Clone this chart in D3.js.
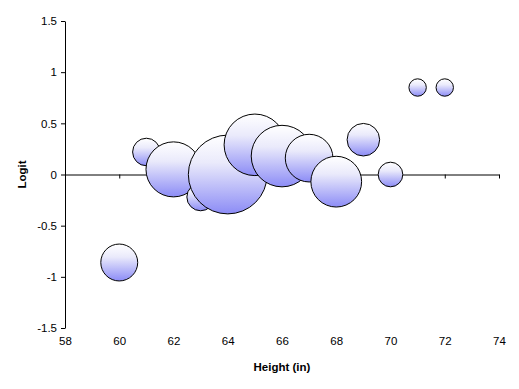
<!DOCTYPE html>
<html lang="en">
  <head>
    <meta charset="utf-8" />
    <title>Logit vs Height</title>
    <style>
      body {
        margin: 0;
        background: #fff;
        font-family: 'Liberation Sans', Arial, sans-serif;
      }
      svg {
        display: block;
      }
    </style>
  </head>
  <body>
    <div class="container"></div>
    <script src="https://cdn.jsdelivr.net/npm/d3@7"></script>
    <script>
      // Data
      const heights = [60, 61, 62, 63, 64, 65, 66, 67, 68, 69, 70, 71, 72];
      const logits = [-0.86, 0.22, 0.05, -0.22, 0.0, 0.29, 0.18, 0.16, -0.07, 0.34, 0.0, 0.85, 0.85];
      const counts = [9, 5, 20, 5, 41, 25, 25, 15, 17, 7, 4, 2, 2];
      const xTicks = [58, 60, 62, 64, 66, 68, 70, 72, 74];
      const yTicks = [-1.5, -1, -0.5, 0, 0.5, 1, 1.5];

      const width = 519;
      const height = 389;

      const svg = d3
        .select('div.container')
        .append('svg')
        .attr('width', width)
        .attr('height', height);

      const x = d3.scaleLinear().domain([58, 74]).range([65, 499]);
      const y = d3.scaleLinear().domain([-1.5, 1.5]).range([328, 21]);
      const r = d3.scaleSqrt().domain([0, 41]).range([0, 39.4]);
      const fmt = (d) => String(d);

      // bubble gradient
      const grad = svg
        .append('defs')
        .append('linearGradient')
        .attr('id', 'bub')
        .attr('x1', 0)
        .attr('y1', 0)
        .attr('x2', 0)
        .attr('y2', 1);
      grad.append('stop').attr('offset', 0).attr('stop-color', '#ffffff');
      grad.append('stop').attr('offset', 0.35).attr('stop-color', '#eaeafb');
      grad.append('stop').attr('offset', 1).attr('stop-color', '#8c8cf6');

      // y axis
      svg
        .append('g')
        .attr('transform', `translate(${x(58)},0)`)
        .call(
          d3.axisLeft(y).tickValues(yTicks).tickFormat(fmt).tickSize(4).tickPadding(4).tickSizeOuter(0),
        );

      // x axis line through zero, ticks only
      const xAxis = svg
        .append('g')
        .attr('transform', `translate(0,${y(0)})`)
        .call(d3.axisBottom(x).tickValues(xTicks).tickSize(4).tickSizeOuter(0));
      xAxis.selectAll('text').remove();

      // x tick labels along the bottom
      const xLabels = svg
        .append('g')
        .attr('transform', `translate(0,${y(-1.5)})`)
        .call(d3.axisBottom(x).tickValues(xTicks).tickFormat(fmt).tickSize(0).tickPadding(9));
      xLabels.select('.domain').remove();

      svg
        .selectAll('.tick text')
        .style('font-family', "'Liberation Sans', Arial, sans-serif")
        .style('font-size', '11.5px')
        .attr('fill', '#000');
      svg.selectAll('.domain, .tick line').attr('stroke', '#000');

      // bubbles, in data order (later on top)
      const pts = heights.map((h, i) => ({ h, v: logits[i], n: counts[i] }));
      svg
        .append('g')
        .selectAll('circle')
        .data(pts)
        .join('circle')
        .attr('cx', (d) => x(d.h))
        .attr('cy', (d) => y(d.v))
        .attr('r', (d) => r(d.n))
        .attr('fill', 'url(#bub)')
        .attr('stroke', '#000')
        .attr('stroke-width', 1);

      // axis titles
      svg
        .append('text')
        .attr('x', (x(58) + x(74)) / 2)
        .attr('y', 371)
        .attr('text-anchor', 'middle')
        .style('font-size', '11.5px')
        .style('font-weight', 'bold')
        .text('Height (in)');

      svg
        .append('text')
        .attr('transform', `translate(26,${(y(1.5) + y(-1.5)) / 2}) rotate(-90)`)
        .attr('text-anchor', 'middle')
        .style('font-size', '11.5px')
        .style('font-weight', 'bold')
        .text('Logit');
    </script>
  </body>
</html>
